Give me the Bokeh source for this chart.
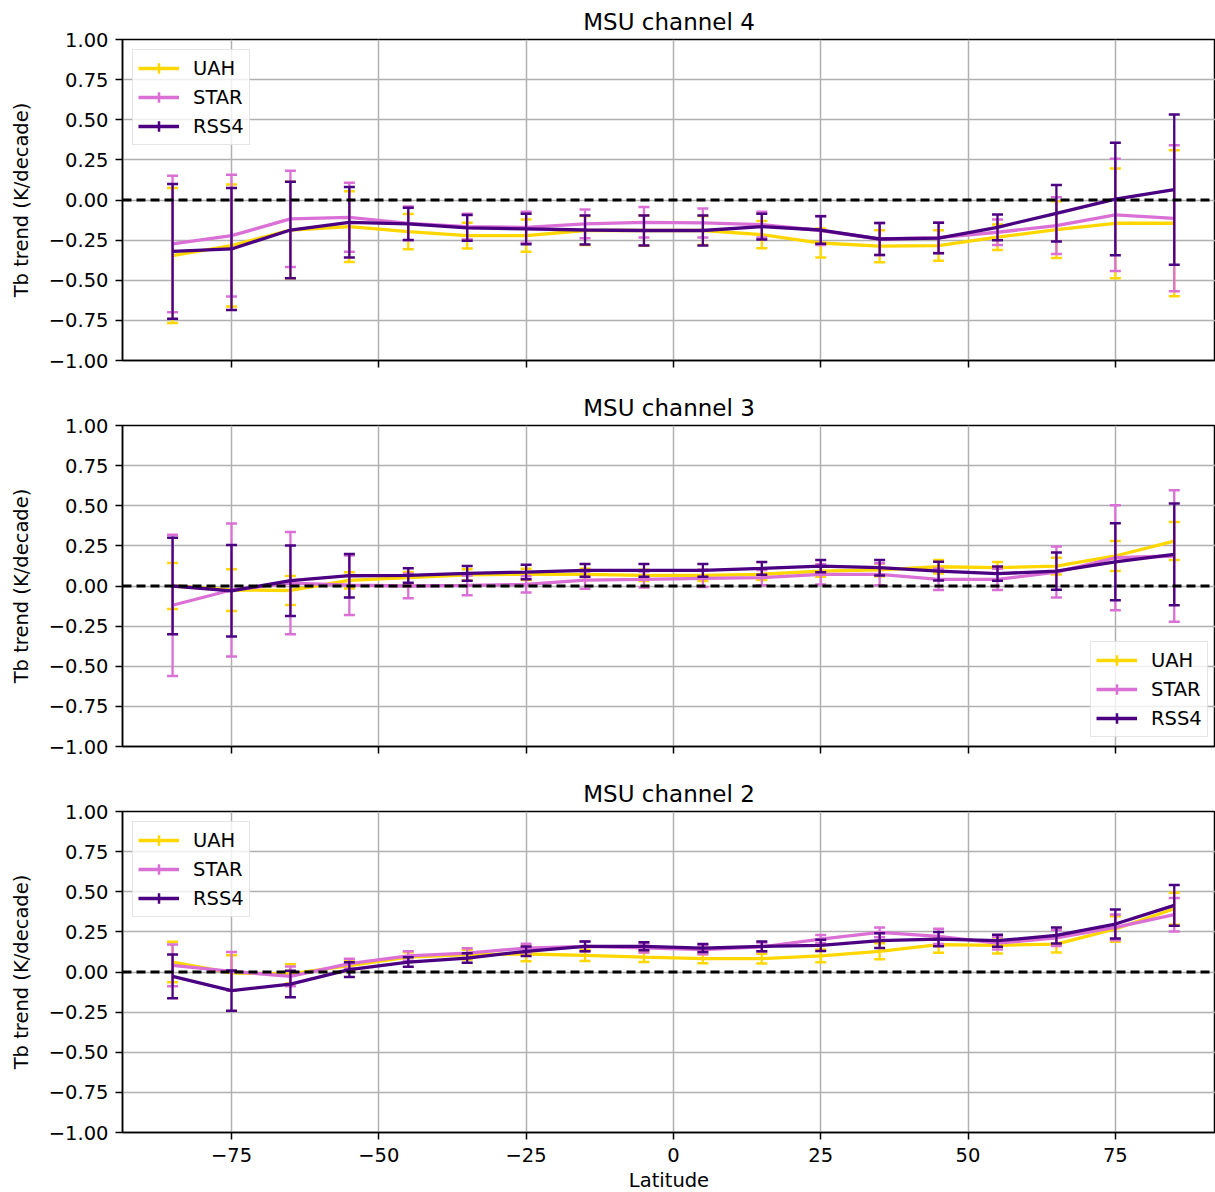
from bokeh.plotting import figure
from bokeh.layouts import column
from bokeh.models import Range1d, FixedTicker, Span, Legend, LegendItem, ColumnDataSource
from bokeh.embed import file_html
from bokeh.resources import INLINE

# ---------------- data ----------------
latitude = [-85, -75, -65, -55, -45, -35, -25, -15, -5, 5, 15, 25, 35, 45, 55, 65, 75, 85]
x_ticks = [-75, -50, -25, 0, 25, 50, 75]
x_tick_labels = ["−75", "−50", "−25", "0", "25", "50", "75"]
y_ticks = [-1.0, -0.75, -0.5, -0.25, 0.0, 0.25, 0.5, 0.75, 1.0]
y_tick_labels = ["−1.00", "−0.75", "−0.50", "−0.25", "0.00", "0.25", "0.50", "0.75", "1.00"]
series_names = ["UAH", "STAR", "RSS4"]
panel_titles = ["MSU channel 4", "MSU channel 3", "MSU channel 2"]

# MSU channel 4
ch4_uah = [-0.346, -0.284, -0.187, -0.166, -0.197, -0.222, -0.222, -0.19, -0.19, -0.19, -0.216, -0.268, -0.288, -0.284, -0.232, -0.185, -0.145, -0.145]
ch4_uah_err = [0.42, 0.38, 0.30, 0.22, 0.11, 0.08, 0.10, 0.09, 0.095, 0.09, 0.085, 0.09, 0.10, 0.095, 0.08, 0.177, 0.342, 0.455]
ch4_star = [-0.274, -0.222, -0.118, -0.108, -0.145, -0.166, -0.17, -0.149, -0.139, -0.143, -0.153, -0.19, -0.243, -0.235, -0.201, -0.16, -0.093, -0.114]
ch4_star_err = [0.425, 0.38, 0.30, 0.215, 0.105, 0.08, 0.097, 0.09, 0.095, 0.09, 0.08, 0.09, 0.10, 0.095, 0.08, 0.177, 0.35, 0.455]
ch4_rss4 = [-0.32, -0.305, -0.187, -0.139, -0.149, -0.174, -0.18, -0.187, -0.19, -0.19, -0.166, -0.187, -0.243, -0.237, -0.17, -0.083, 0.006, 0.064]
ch4_rss4_err = [0.42, 0.38, 0.30, 0.22, 0.10, 0.08, 0.095, 0.09, 0.093, 0.093, 0.08, 0.085, 0.10, 0.095, 0.08, 0.176, 0.35, 0.468]

# MSU channel 3
ch3_uah = [0.0, -0.025, -0.028, 0.035, 0.052, 0.07, 0.073, 0.073, 0.066, 0.066, 0.073, 0.093, 0.10, 0.12, 0.114, 0.124, 0.187, 0.28]
ch3_uah_err = [0.143, 0.13, 0.09, 0.05, 0.035, 0.035, 0.035, 0.035, 0.035, 0.035, 0.035, 0.035, 0.04, 0.042, 0.035, 0.052, 0.094, 0.118]
ch3_star = [-0.12, -0.025, 0.018, 0.005, 0.0, 0.004, 0.01, 0.037, 0.041, 0.048, 0.052, 0.073, 0.073, 0.041, 0.041, 0.087, 0.176, 0.187]
ch3_star_err = [0.44, 0.415, 0.318, 0.185, 0.077, 0.062, 0.05, 0.054, 0.05, 0.054, 0.048, 0.063, 0.068, 0.066, 0.066, 0.159, 0.327, 0.41]
ch3_rss4 = [0.0, -0.03, 0.033, 0.064, 0.066, 0.079, 0.087, 0.097, 0.097, 0.097, 0.11, 0.124, 0.114, 0.093, 0.077, 0.093, 0.151, 0.197]
ch3_rss4_err = [0.30, 0.285, 0.22, 0.136, 0.045, 0.046, 0.045, 0.04, 0.04, 0.04, 0.04, 0.038, 0.048, 0.058, 0.045, 0.116, 0.24, 0.317]

# MSU channel 2
ch2_uah = [0.062, -0.006, -0.012, 0.04, 0.093, 0.108, 0.112, 0.104, 0.093, 0.083, 0.083, 0.10, 0.129, 0.17, 0.166, 0.174, 0.268, 0.394]
ch2_uah_err = [0.126, 0.11, 0.06, 0.035, 0.03, 0.03, 0.045, 0.035, 0.03, 0.028, 0.03, 0.04, 0.05, 0.05, 0.05, 0.052, 0.08, 0.10]
ch2_star = [0.041, 0.004, -0.027, 0.052, 0.10, 0.118, 0.149, 0.16, 0.15, 0.139, 0.156, 0.205, 0.247, 0.222, 0.18, 0.212, 0.278, 0.357]
ch2_star_err = [0.13, 0.12, 0.062, 0.03, 0.03, 0.03, 0.027, 0.03, 0.028, 0.028, 0.028, 0.025, 0.03, 0.047, 0.04, 0.05, 0.08, 0.104]
ch2_rss4 = [-0.027, -0.116, -0.075, 0.015, 0.062, 0.087, 0.129, 0.16, 0.16, 0.149, 0.16, 0.166, 0.195, 0.205, 0.195, 0.228, 0.299, 0.415]
ch2_rss4_err = [0.136, 0.125, 0.083, 0.046, 0.03, 0.03, 0.03, 0.03, 0.025, 0.025, 0.03, 0.035, 0.046, 0.045, 0.037, 0.05, 0.09, 0.127]

panels = [
    [(ch4_uah, ch4_uah_err), (ch4_star, ch4_star_err), (ch4_rss4, ch4_rss4_err)],
    [(ch3_uah, ch3_uah_err), (ch3_star, ch3_star_err), (ch3_rss4, ch3_rss4_err)],
    [(ch2_uah, ch2_uah_err), (ch2_star, ch2_star_err), (ch2_rss4, ch2_rss4_err)],
]

# ---------------- style ----------------
FONT = "DejaVu Sans"
COLORS = ["#FFD700", "#DA70D6", "#4B0082"]
BORDER_TOP = [39, 39, 39]
BORDER_BOTTOM = [26, 26, 60]

figs = []
for i, (title, series) in enumerate(zip(panel_titles, panels)):
    p = figure(frame_width=1093, frame_height=321,
               x_range=Range1d(-93.5, 92.0), y_range=Range1d(-1.0, 1.0),
               output_backend="svg", toolbar_location=None,
               min_border_left=122, min_border_right=0,
               min_border_top=BORDER_TOP[i], min_border_bottom=BORDER_BOTTOM[i])
    p.title.text = title
    p.title.align = "center"
    p.title.text_font = FONT
    p.title.text_font_size = "23px"
    p.title.text_font_style = "normal"
    p.title.text_color = "black"
    p.title.standoff = 9

    p.background_fill_color = "white"
    p.border_fill_color = "white"
    p.outline_line_color = "black"
    p.outline_line_width = 1.5
    p.outline_line_alpha = 1.0

    xt = FixedTicker(ticks=x_ticks, minor_ticks=[])
    yt = FixedTicker(ticks=y_ticks, minor_ticks=[])
    p.xaxis.ticker = xt
    p.xgrid.ticker = xt
    p.yaxis.ticker = yt
    p.ygrid.ticker = yt
    for g in (p.xgrid, p.ygrid):
        g.grid_line_color = "#b0b0b0"
        g.grid_line_width = 1.5

    for ax in (p.xaxis, p.yaxis):
        ax.axis_line_color = "black"
        ax.axis_line_width = 1.5
        ax.major_tick_line_color = "black"
        ax.major_tick_line_width = 1.5
        ax.major_tick_in = 0
        ax.major_tick_out = 7
        ax.minor_tick_line_color = None
        ax.major_label_text_font = FONT
        ax.major_label_text_font_size = "19.5px"
        ax.major_label_text_color = "black"
        ax.axis_label_text_font = FONT
        ax.axis_label_text_font_size = "19.5px"
        ax.axis_label_text_font_style = "normal"
        ax.axis_label_text_color = "black"

    p.yaxis.major_label_overrides = dict(zip(y_ticks, y_tick_labels))
    p.yaxis.major_label_standoff = 7
    p.yaxis.axis_label = "Tb trend (K/decade)"
    p.yaxis.axis_label_standoff = 13

    if i == 2:
        p.xaxis.major_label_overrides = dict(zip(x_ticks, x_tick_labels))
        p.xaxis.major_label_standoff = 8
        p.xaxis.axis_label = "Latitude"
        p.xaxis.axis_label_standoff = 4
    else:
        p.xaxis.major_label_overrides = {t: "" for t in x_ticks}
        p.xaxis.major_label_standoff = 0

    items = []
    for name, color, (vals, errs) in zip(series_names, COLORS, series):
        src = ColumnDataSource(dict(
            x=latitude, y=vals,
            lo=[v - e for v, e in zip(vals, errs)],
            hi=[v + e for v, e in zip(vals, errs)],
        ))
        p.segment(x0="x", y0="lo", x1="x", y1="hi", source=src,
                  line_color=color, line_width=2.3)
        p.scatter(x="x", y="hi", source=src, marker="dash", size=11,
                  line_color=color, line_width=2.5)
        p.scatter(x="x", y="lo", source=src, marker="dash", size=11,
                  line_color=color, line_width=2.5)
        lr = p.line(x="x", y="y", source=src, line_color=color, line_width=3.3)
        cr = p.scatter(x="x", y="y", source=src, marker="cross", size=0,
                       line_color=color, line_width=2.5)
        items.append(LegendItem(label=name, renderers=[lr, cr]))

    p.add_layout(Span(location=0, dimension="width", line_color="black",
                      line_width=2.8, line_dash="9 5"))

    leg = Legend(items=items, margin=10, padding=5, spacing=3,
                 glyph_width=41, glyph_height=26, label_standoff=14,
                 label_height=20,
                 label_text_font=FONT, label_text_font_size="19.5px",
                 label_text_color="black",
                 border_line_color="#cccccc", border_line_width=1.5,
                 background_fill_color="white", background_fill_alpha=0.8)
    if i == 1:
        leg.location = (968, 9)
    else:
        leg.location = "top_left"
    p.add_layout(leg)
    figs.append(p)

layout = column(*figs, spacing=0)
open("out.html", "w").write(file_html(layout, INLINE))
